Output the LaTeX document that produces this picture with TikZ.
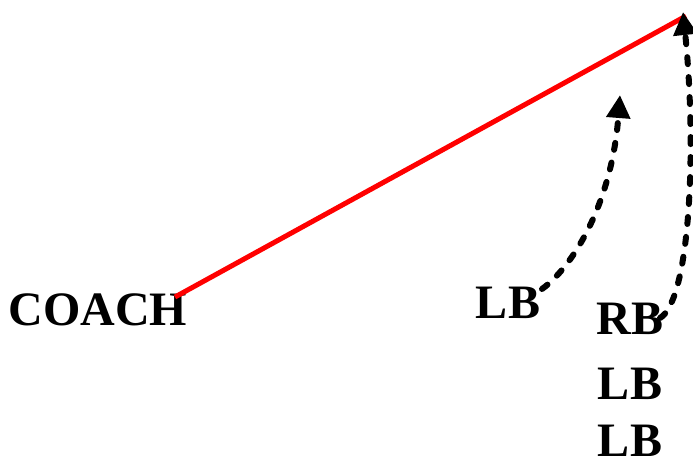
\documentclass[tikz,border=0pt]{standalone}
\usepackage{fontspec}
\setmainfont{Liberation Serif}
\usepackage{xcolor}
\usetikzlibrary{arrows.meta,positioning}
\definecolor{playred}{HTML}{FF0000}
\definecolor{playink}{HTML}{000000}

\begin{document}
\begin{tikzpicture}[
  x=1pt,y=-1pt,
  player/.style={inner sep=0pt,font=\fontsize{48}{48}\selectfont\bfseries,text=playink},
  passline/.style={draw=playred,line width=5pt},
  route/.style={draw=playink,line width=6pt,line cap=round,dash pattern=on 7pt off 13pt,
    -{Triangle[length=23pt,width=23pt,line cap=butt]}}
]
\useasboundingbox (0,0) rectangle (693,455);

\node[player] (coach) at (98,310) {COACH};
\node[player] (lbleft) at (508,303) {LB};
\node[player] (rb) at (630,319) {RB};
\node[player,below=33pt of rb] (lbmid) {LB};
\node[player,below=25pt of lbmid] (lbbot) {LB};

\coordinate (release) at (175,297);
\coordinate (apex) at (686,16);
\coordinate (hook) at (620,95);
\coordinate (flat) at (683,12);

\draw[passline] (release) -- (apex);
\draw[route] (542,289) .. controls (575,265) and (612,200) .. (hook);
\draw[route] (660,318) .. controls (690,300) and (697,150) .. (flat);
\end{tikzpicture}
\end{document}
